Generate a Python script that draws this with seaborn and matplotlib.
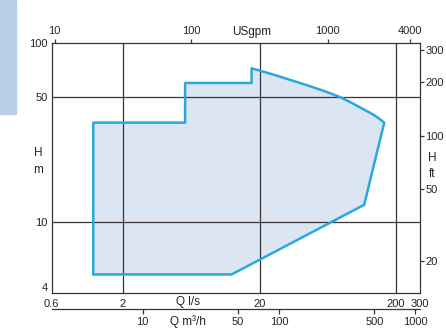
import numpy as np
import pandas as pd
import seaborn as sns
import matplotlib
matplotlib.use("Agg")
import matplotlib.pyplot as plt
from matplotlib.patches import Rectangle
from matplotlib.ticker import FixedLocator, FixedFormatter, NullLocator

# Pump performance envelope: flow Q (l/s) vs head H (m)
envelope_q = [1.21, 12.5, 117, 164, 150, 136, 92, 78, 60, 44, 25, 17.5, 17.5, 5.7, 5.7, 1.21, 1.21]
envelope_h = [5.1, 5.1, 12.5, 36, 38, 40, 47, 50, 54, 58.5, 67, 72.5, 60, 60, 36, 36, 5.1]

# Axis ticks
q_ls_ticks = [0.6, 2, 20, 200, 300]
q_ls_grid = [2, 20, 200]
h_m_ticks = [4, 10, 50, 100]
h_m_grid = [10, 50]
gpm_ticks = [10, 100, 1000, 4000]
m3h_ticks = [10, 50, 100, 500, 1000]
ft_ticks = [20, 50, 100, 200, 300]

LS_TO_GPM = 15.85
LS_TO_M3H = 3.6
M_TO_FT = 3.2808

sns.set_theme(style="white")
plt.rcParams["font.family"] = ["Liberation Sans", "DejaVu Sans"]
plt.rcParams["font.size"] = 8

line_col = "#3a3434"
edge_col = "#29a8e0"
fill_col = "#dce6f2"

W, H = 446, 328
fig = plt.figure(figsize=(W / 100, H / 100), dpi=100)
ax = fig.add_axes([51.7 / W, 1 - 293.3 / H, (420 - 51.7) / W, (293.3 - 43.3) / H])

# side tab
fig.patches.append(Rectangle((0, 1 - 114 / H), 16 / W, 114 / H,
                             transform=fig.transFigure, color="#bad0ea", zorder=0))

ax.set_xscale("log")
ax.set_yscale("log")
ax.set_xlim(0.6, 300)
ax.set_ylim(4, 100)

df = pd.DataFrame({"Q": envelope_q, "H": envelope_h})
ax.fill(df["Q"], df["H"], color=fill_col, zorder=1, lw=0)
for q in q_ls_grid:
    ax.axvline(q, color=line_col, lw=0.9, zorder=2)
for h in h_m_grid:
    ax.axhline(h, color=line_col, lw=0.9, zorder=2)
sns.lineplot(data=df, x="Q", y="H", sort=False, estimator=None, ax=ax,
             color=edge_col, lw=1.8, zorder=3)
ax.set_xlabel("")
ax.set_ylabel("")

for s in ax.spines.values():
    s.set_color(line_col)
    s.set_linewidth(0.9)

ax.xaxis.set_major_locator(FixedLocator(q_ls_ticks))
ax.xaxis.set_major_formatter(FixedFormatter([f"{v:g}" for v in q_ls_ticks]))
ax.xaxis.set_minor_locator(NullLocator())
ax.yaxis.set_major_locator(FixedLocator(h_m_ticks))
ax.yaxis.set_major_formatter(FixedFormatter([f"{v:g}" for v in h_m_ticks]))
ax.yaxis.set_minor_locator(NullLocator())
ax.tick_params(axis="x", length=0, pad=4, labelsize=8, colors="#222222")
ax.tick_params(axis="y", length=0, pad=3, labelsize=8, colors="#222222")
ax.tick_params(axis="both", which="both", bottom=False, left=False)
ax.tick_params(axis="x", labelbottom=True)
ax.tick_params(axis="y", labelleft=True)

# lift the lowest head label so it sits above the flow labels
fig.canvas.draw()
ylabels = ax.get_yticklabels()
ylabels[0].set_va("bottom")

# USgpm scale on top
top = ax.secondary_xaxis("top", functions=(lambda q: q * LS_TO_GPM, lambda g: g / LS_TO_GPM))
top.xaxis.set_major_locator(FixedLocator(gpm_ticks))
top.xaxis.set_major_formatter(FixedFormatter([f"{v:g}" for v in gpm_ticks]))
top.xaxis.set_minor_locator(NullLocator())
top.tick_params(direction="out", length=3, width=0.9, color=line_col, pad=2, labelsize=8)
top.spines["top"].set_visible(False)

# m3/h scale below
bot = ax.secondary_xaxis(-0.064, functions=(lambda q: q * LS_TO_M3H, lambda m: m / LS_TO_M3H))
bot.xaxis.set_major_locator(FixedLocator(m3h_ticks))
bot.xaxis.set_major_formatter(FixedFormatter([f"{v:g}" for v in m3h_ticks]))
bot.xaxis.set_minor_locator(NullLocator())
bot.tick_params(direction="out", length=3.5, width=0.9, color=line_col, pad=2, labelsize=8)
bot.spines["bottom"].set_color(line_col)
bot.spines["bottom"].set_linewidth(0.9)

# ft scale on right
right = ax.secondary_yaxis("right", functions=(lambda m: m * M_TO_FT, lambda f: f / M_TO_FT))
right.yaxis.set_major_locator(FixedLocator(ft_ticks))
right.yaxis.set_major_formatter(FixedFormatter([f"{v:g}" for v in ft_ticks]))
right.yaxis.set_minor_locator(NullLocator())
right.tick_params(direction="out", length=3, width=0.9, color=line_col, pad=1, labelsize=8)
right.spines["right"].set_visible(False)

def ftext(x, y, s, **kw):
    fig.text(x / W, 1 - y / H, s, ha="center", va="center", fontsize=8.5,
             color="#222222", **kw)

ftext(252, 31.5, "USgpm")
ftext(188, 302, "Q l/s")
ftext(188, 321.5, "Q m³/h")
ftext(38, 153, "H")
ftext(38, 170, "m")
ftext(432, 158, "H")
ftext(432, 174, "ft")

fig.savefig("out.png", dpi=100)
